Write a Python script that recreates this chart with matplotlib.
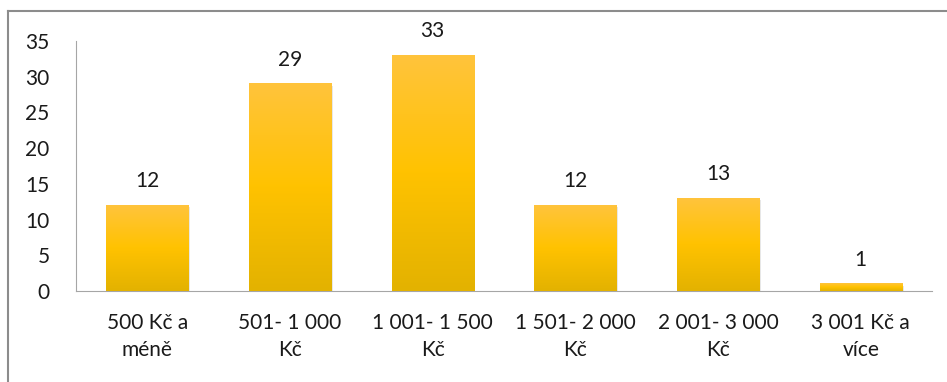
import numpy as np
import matplotlib.pyplot as plt
from matplotlib.colors import LinearSegmentedColormap
from matplotlib.lines import Line2D

plt.rcParams['font.family'] = ['Lato', 'DejaVu Sans']

categories = ['500 Kč a\nméně', '501- 1 000\nKč', '1 001- 1 500\nKč',
              '1 501- 2 000\nKč', '2 001- 3 000\nKč', '3 001 Kč a\nvíce']
values = [12, 29, 33, 12, 13, 1]

fig = plt.figure(figsize=(9.47, 3.82), dpi=100)
ax = fig.add_axes([0.0803, 0.2382, 0.904, 0.6545])

x = np.arange(len(values))
bars = ax.bar(x, values, width=0.575, color='none', zorder=2)

# vertical gradient fill for each bar, light top -> darker bottom
cmap = LinearSegmentedColormap.from_list('gold', ['#e3b200', '#ffc200', '#ffc43c'])
grad = np.linspace(0, 1, 256).reshape(-1, 1)
for b in bars:
    x0, w, h = b.get_x(), b.get_width(), b.get_height()
    # soft shadow
    ax.bar(x0 + w / 2 + 0.012, h, width=w, bottom=-0.25, color='#7f7f7f', alpha=0.18,
           zorder=1, linewidth=0)
    ax.imshow(grad, extent=[x0, x0 + w, 0, h], origin='lower', cmap=cmap,
              aspect='auto', zorder=3)
    ax.text(x0 + w / 2, h + 2.0, str(int(h)), ha='center', va='bottom',
            fontsize=15, color='#1a1a1a')

ax.set_xlim(-0.5, len(values) - 0.5)
ax.set_ylim(0, 35)
ax.set_yticks(range(0, 36, 5))
ax.set_xticks(x)
ax.set_xticklabels(categories, fontsize=15, color='#1a1a1a', linespacing=1.45)
ax.tick_params(axis='y', length=0, labelsize=15, labelcolor='#1a1a1a', pad=19)
ax.tick_params(axis='x', length=0, pad=16)
for s in ['top', 'right']:
    ax.spines[s].set_visible(False)
ax.spines['left'].set_color('#a6a6a6')
ax.spines['bottom'].set_color('#a6a6a6')

# outer chart frame (top and left edges visible)
fig.add_artist(Line2D([8 / 947, 8 / 947], [0, 1 - 11 / 382], transform=fig.transFigure,
                      color='#8c8c8c', lw=1.5))
fig.add_artist(Line2D([8 / 947, 1], [1 - 11 / 382, 1 - 11 / 382], transform=fig.transFigure,
                      color='#8c8c8c', lw=1.5))

fig.savefig('out.png', dpi=100)
